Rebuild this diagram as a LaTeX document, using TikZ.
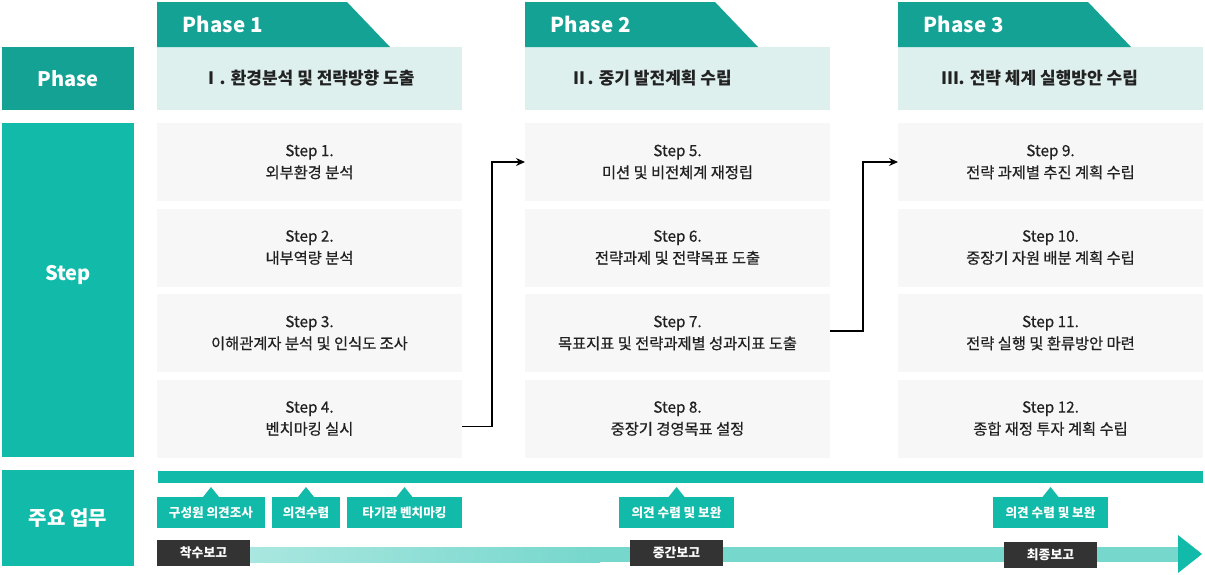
\documentclass[tikz,border=0pt]{standalone}
\usepackage{fontspec}
\setmainfont{Noto Sans CJK KR}
\newfontfamily\medfont[FakeBold=0.6]{Noto Sans CJK KR}
\usetikzlibrary{positioning, arrows.meta}
\definecolor{phasedark}{HTML}{14A295}
\definecolor{tealmain}{HTML}{12BBA9}
\definecolor{headbg}{HTML}{DDF0EE}
\definecolor{stepbg}{HTML}{F7F7F7}
\definecolor{reportbg}{HTML}{333333}
\definecolor{barlight}{HTML}{A9E7E0}
\definecolor{barmain}{HTML}{76D7CC}
\definecolor{inkdark}{HTML}{222222}
\tikzset{
  stepbox/.style={
    fill=stepbg,
    minimum width=305pt,
    minimum height=78pt,
    inner sep=0pt,
    outer sep=0pt,
    align=center,
    text=inkdark,
    font=\medfont\fontsize{15.3}{22}\selectfont
  },
  headbox/.style={
    fill=headbg,
    minimum width=305pt,
    minimum height=63pt,
    inner sep=0pt,
    outer sep=0pt
  },
  headtext/.style={
    inner sep=0pt,
    text=inkdark,
    font=\bfseries\fontsize{17}{20}\selectfont
  },
  tabtext/.style={
    anchor=base west,
    inner sep=0pt,
    text=white,
    font=\bfseries\fontsize{20.5}{24}\selectfont
  },
  sidebox/.style={
    minimum width=132pt,
    inner sep=0pt,
    outer sep=0pt,
    text=white,
    font=\bfseries\fontsize{20}{24}\selectfont
  },
  tagbox/.style={
    fill=tealmain,
    minimum height=31pt,
    inner sep=0pt,
    outer sep=0pt,
    text=white,
    font=\bfseries\fontsize{12.6}{14}\selectfont
  },
  reportbox/.style={
    fill=reportbg,
    minimum width=93pt,
    minimum height=26pt,
    inner sep=0pt,
    outer sep=0pt,
    text=white,
    font=\bfseries\fontsize{12.8}{14}\selectfont
  }
}

\begin{document}
\begin{tikzpicture}[x=1pt, y=-1pt, >={Stealth[length=9pt, width=8pt]}, line width=1.3pt]
        \useasboundingbox (0,0) rectangle (1205,574);

        % Row labels on the left
        \node[sidebox, fill=phasedark, minimum height=63pt] (phaselbl) at (68,78.5) {Phase};
        \node[sidebox, fill=tealmain, minimum height=334pt] (steplbl) at (68,290) {};
        \node[sidebox] (steptxt) at ([yshift=15pt]steplbl.center) {Step};
        \node[sidebox, fill=tealmain, minimum height=96pt] (tasklbl) at (68,518) {주요 업무};

        % Step boxes
        \node[stepbox] (s1) at (309.5,162) {Step 1.\\외부환경 분석};
        \node[stepbox] (s2) [below=7.5pt of s1] {Step 2.\\내부역량 분석};
        \node[stepbox] (s3) [below=7.5pt of s2] {Step 3.\\이해관계자 분석 및 인식도 조사};
        \node[stepbox] (s4) [below=7.5pt of s3] {Step 4.\\벤치마킹 실시};

        \node[stepbox] (s5) [right=63pt of s1] {Step 5.\\미션 및 비전체계 재정립};
        \node[stepbox] (s6) [below=7.5pt of s5] {Step 6.\\전략과제 및 전략목표 도출};
        \node[stepbox] (s7) [below=7.5pt of s6] {Step 7.\\목표지표 및 전략과제별 성과지표 도출};
        \node[stepbox] (s8) [below=7.5pt of s7] {Step 8.\\중장기 경영목표 설정};

        \node[stepbox] (s9)  [right=68pt of s5] {Step 9.\\전략 과제별 추진 계획 수립};
        \node[stepbox] (s10) [below=7.5pt of s9] {Step 10.\\중장기 자원 배분 계획 수립};
        \node[stepbox] (s11) [below=7.5pt of s10] {Step 11.\\전략 실행 및 환류방안 마련};
        \node[stepbox] (s12) [below=7.5pt of s11] {Step 12.\\종합 재정 투자 계획 수립};

        % Phase headings and tabs
        \node[headbox] (h1) [above=13pt of s1] {};
        \node[headbox] (h2) [above=13pt of s5] {};
        \node[headbox] (h3) [above=13pt of s9] {};
        \node[headtext] (h1t) [right=45pt of h1.west] {Ⅰ. 환경분석 및 전략방향 도출};
        \node[headtext] (h2t) [right=45pt of h2.west] {Ⅱ. 중기 발전계획 수립};
        \node[headtext] (h3t) [right=43pt of h3.west] {Ⅲ. 전략 체계 실행방안 수립};

        \fill[phasedark] (h1.north west) -- ++(0,-45) -- ++(190,0) -- ([xshift=233pt]h1.north west) -- cycle;
        \fill[phasedark] (h2.north west) -- ++(0,-45) -- ++(190,0) -- ([xshift=233pt]h2.north west) -- cycle;
        \fill[phasedark] (h3.north west) -- ++(0,-45) -- ++(190,0) -- ([xshift=233pt]h3.north west) -- cycle;
        \node[tabtext] (p1) at ([xshift=25pt, yshift=15pt]h1.north west) {Phase 1};
        \node[tabtext] (p2) at ([xshift=25pt, yshift=15pt]h2.north west) {Phase 2};
        \node[tabtext] (p3) at ([xshift=25pt, yshift=15pt]h3.north west) {Phase 3};

        % Arrows between phases
        \draw[->] ([yshift=-8pt]s4.east) -- ++(30,0) |- (s5.west);
        \draw[->] ([yshift=2pt]s7.east) -- ++(33,0) |- (s9.west);

        % Main tasks
        \node[fill=tealmain, minimum width=1045pt, minimum height=12pt, inner sep=0pt, anchor=north west] (topbar) at (157,470) {};

        \node[tagbox, minimum width=108pt] (g1) at (211,512.5) {구성원 의견조사};
        \node[tagbox, minimum width=68pt]  (g2) at (306,512.5) {의견수렴};
        \node[tagbox, minimum width=115pt] (g3) at (404.5,512.5) {타기관 벤치마킹};
        \node[tagbox, minimum width=115pt] (g4) at (676.5,512.5) {의견 수렴 및 보완};
        \node[tagbox, minimum width=115pt] (g5) at (1050.5,512.5) {의견 수렴 및 보완};
        \foreach \g in {g1,g2,g3,g4,g5}
          \fill[tealmain] ([xshift=-8pt]\g.north) -- ([yshift=10pt]\g.north) -- ([xshift=8pt]\g.north) -- cycle;

        % Timeline
        \fill[left color=barlight, right color=barmain] (250,547) rectangle (600,562);
        \fill[barmain] (600,547) rectangle (1178,562);
        \fill[tealmain] (1178,535) -- (1202,554) -- (1178,573) -- cycle;

        \node[reportbox] (r1) at (203.5,553) {착수보고};
        \node[reportbox] (r2) at (676.5,553) {중간보고};
        \node[reportbox] (r3) at (1050.5,555) {최종보고};
    \end{tikzpicture}
\end{document}
